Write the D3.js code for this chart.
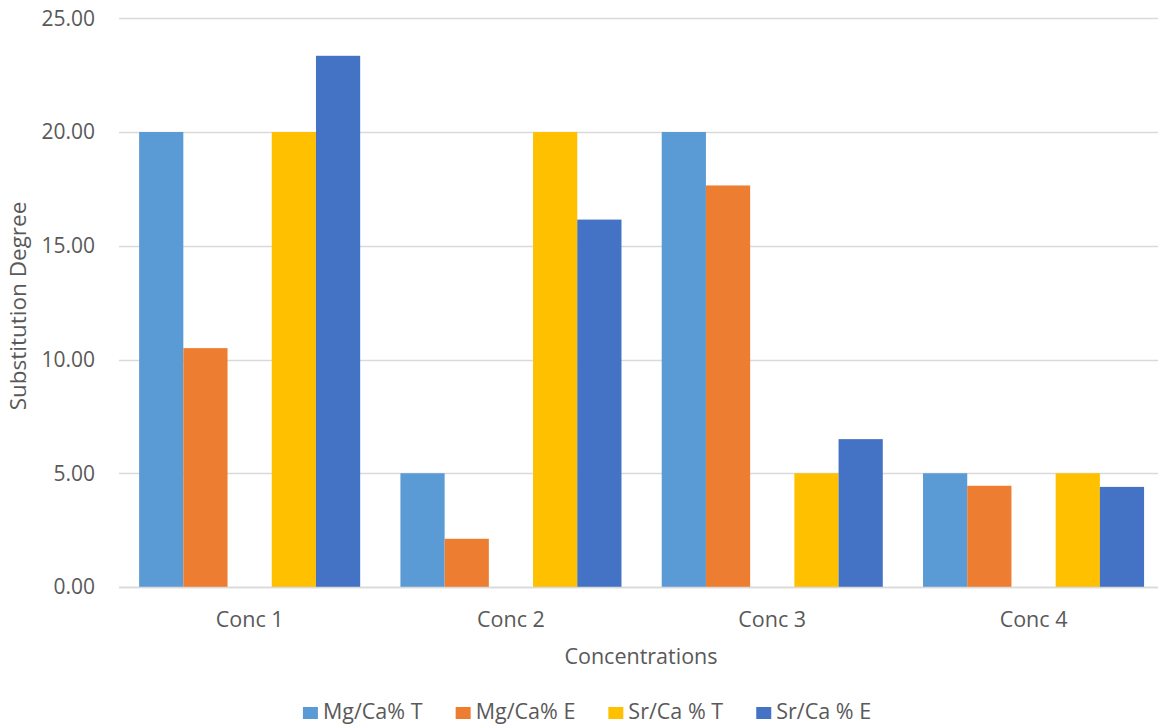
<!DOCTYPE html>
<html>
<head>
<meta charset="UTF-8">
<title>Substitution Degree</title>
<script src="https://cdnjs.cloudflare.com/ajax/libs/d3/7.8.5/d3.min.js"></script>
<style>
    body { margin: 0; background: #fff; }
    text { font-family: "Open Sans", "Noto Sans", sans-serif; fill: #595959; }
</style>
</head>
<body>
<div id="chart"></div>
<script>
    // data
    const categories = ["Conc 1", "Conc 2", "Conc 3", "Conc 4"];
    const seriesNames = ["Mg/Ca% T", "Mg/Ca% E", "Sr/Ca % T", "Sr/Ca % E"];
    const mgT = [20, 5, 20, 5];
    const mgE = [10.5, 2.12, 17.65, 4.45];
    const srT = [20, 20, 5, 5];
    const srE = [23.35, 16.15, 6.5, 4.4];
    const yTicks = [0, 5, 10, 15, 20, 25];
    const colors = ["#5B9BD5", "#ED7D31", "#FFC000", "#4472C4"];

    // slot layout: an empty slot sits between the Mg and Sr bars
    const slots = ["s0", "s1", "gap", "s2", "s3"];
    const seriesValues = [mgT, mgE, srT, srE];
    const seriesSlot = ["s0", "s1", "s2", "s3"];

    const width = 1158, height = 724;
    const plotLeft = 119, step = 261.3;

    const svg = d3.select("#chart").append("svg")
        .attr("width", width).attr("height", height);

    const x0 = d3.scaleBand()
        .domain(categories)
        .range([plotLeft, plotLeft + step * categories.length])
        .paddingInner(0.154)
        .paddingOuter(0.077);

    const x1 = d3.scaleBand()
        .domain(slots)
        .range([0, x0.bandwidth()]);

    const y = d3.scaleLinear().domain([0, 25]).range([587, 18.25]);

    // gridlines
    svg.append("g").selectAll("line")
        .data(yTicks)
        .join("line")
        .attr("x1", plotLeft).attr("x2", width)
        .attr("y1", d => Math.round(y(d)) + 0.5).attr("y2", d => Math.round(y(d)) + 0.5)
        .attr("stroke", "#d9d9d9").attr("stroke-width", 1.3);

    // y tick labels
    svg.append("g").selectAll("text")
        .data(yTicks)
        .join("text")
        .attr("x", 95).attr("y", d => y(d))
        .attr("dy", "0.35em")
        .attr("text-anchor", "end")
        .style("font-size", "21px")
        .text(d => d3.format(".2f")(d));

    // bars
    const bars = [];
    seriesValues.forEach((vals, si) => {
        vals.forEach((v, ci) => bars.push({ cat: categories[ci], slot: seriesSlot[si], v, si }));
    });
    svg.append("g").selectAll("rect")
        .data(bars)
        .join("rect")
        .attr("x", d => x0(d.cat) + x1(d.slot))
        .attr("y", d => y(d.v))
        .attr("width", x1.bandwidth())
        .attr("height", d => y(0) - y(d.v))
        .attr("fill", d => colors[d.si]);

    // baseline
    svg.append("line")
        .attr("x1", plotLeft).attr("x2", width)
        .attr("y1", 587.5).attr("y2", 587.5)
        .attr("stroke", "#d9d9d9").attr("stroke-width", 1.5);

    // category labels
    svg.append("g").selectAll("text")
        .data(categories)
        .join("text")
        .attr("x", d => x0(d) + x0.bandwidth() / 2)
        .attr("y", 627)
        .attr("text-anchor", "middle")
        .style("font-size", "21.5px")
        .text(d => d);

    // axis titles
    svg.append("text")
        .attr("x", 641).attr("y", 664)
        .attr("text-anchor", "middle")
        .style("font-size", "21.5px")
        .text("Concentrations");

    svg.append("text")
        .attr("transform", "translate(26,306) rotate(-90)")
        .attr("text-anchor", "middle")
        .style("font-size", "22.5px")
        .text("Substitution Degree");

    // legend
    const legend = svg.append("g");
    const items = legend.selectAll("g")
        .data(seriesNames)
        .join("g");
    items.append("rect")
        .attr("width", 15).attr("height", 12)
        .attr("y", -12)
        .attr("fill", (d, i) => colors[i]);
    items.append("text")
        .attr("x", 20)
        .style("font-size", "21.5px")
        .text(d => d);
    let lx = 0;
    items.each(function () {
        const w = this.getBBox().width;
        d3.select(this).attr("transform", `translate(${lx},719)`);
        lx += w + 33;
    });
    lx -= 33;
    legend.attr("transform", `translate(${587 - lx / 2},0)`);
</script>
</body>
</html>
